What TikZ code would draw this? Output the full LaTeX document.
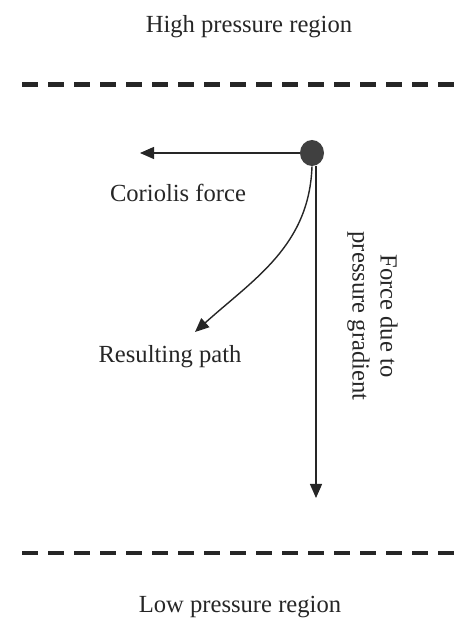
\documentclass[tikz,border=0pt]{standalone}
\usepackage{fontspec}
\setmainfont{Liberation Serif}
\usetikzlibrary{arrows.meta,shapes.geometric}

\tikzset{
  isobar/.style={line width=2.4pt, dash pattern=on 0.31cm off 0.21cm, black!85},
  force/.style={line width=0.8pt, black!85, -{Triangle[length=0.28cm, width=0.24cm]}},
  lbl/.style={font=\fontsize{14}{16}\selectfont, text=black!85}
}

\begin{document}
\begin{tikzpicture}
  \useasboundingbox (0,0) rectangle (9.12,12.72);

  % Pressure regions
  \node[lbl] (high) at (4.98,12.18) {High pressure region};
  \draw[isobar] (0.44,11.03) -- (9.12,11.03);
  \draw[isobar] (0.44,1.66) -- (9.12,1.66);
  \node[lbl] (low) at (4.8,0.58) {Low pressure region};

  % Air parcel and forces
  \node[ellipse, fill=black!75, minimum width=0.48cm, minimum height=0.52cm, inner sep=0pt] (parcel) at (6.24,9.66) {};
  \coordinate (cend) at (2.8,9.66);
  \coordinate (pend) at (6.32,2.76);
  \coordinate (rend) at (3.9,6.08);
  \draw[force] (parcel.west) -- (cend);
  \draw[force] (parcel.south -| pend) -- (pend);
  \draw[force] (parcel.south) to[out=-92, in=42] (rend);

  \node[lbl] (coriolis) at (3.56,8.86) {Coriolis force};
  \node[lbl] (path) at (3.4,5.58) {Resulting path};
  \node[lbl, rotate=-90, align=center] (gradient) at (7.45,6.4) {Force due to\\pressure gradient};
\end{tikzpicture}
\end{document}
